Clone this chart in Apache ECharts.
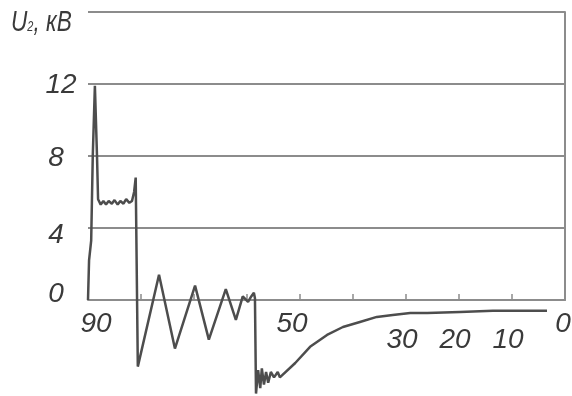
<!DOCTYPE html>
<html>
<head>
<meta charset="utf-8">
<script src="https://cdn.jsdelivr.net/npm/echarts@6/dist/echarts.min.js"></script>
<style>html,body{margin:0;padding:0;background:#fff}#c{width:572px;height:396px}</style>
</head>
<body>
<div id="c"></div>
<script>
// Distance (reversed axis, 90 -> 0) and voltage U2, kV
const xValues = [90, 89.8, 89.4, 89.1, 88.7, 88.3, 88.1, 87.6, 87.1, 86.6, 86.1, 85.5, 85.0, 84.4, 83.9, 83.3, 82.8, 82.2, 81.7, 81.3, 81.0,
  80.6, 76.6, 73.6, 69.8, 67.2, 64.0, 62.1, 60.8, 59.8, 59.2, 58.7, 58.5,
  58.3, 57.9, 57.5, 57.2, 56.8, 56.4, 56.0, 55.5, 54.9, 54.2, 53.8,
  50.9, 48.1, 44.9, 41.9, 38.7, 35.5, 32.5, 29.2, 26.0, 19.8, 13.6, 3.4];
const uValues = [0, 2.2, 3.3, 8.0, 11.9, 8.0, 5.6, 5.3, 5.5, 5.3, 5.5, 5.35, 5.55, 5.3, 5.5, 5.35, 5.6, 5.4, 5.5, 6.0, 6.8,
  -3.7, 1.4, -2.7, 0.8, -2.2, 0.6, -1.1, 0.2, -0.1, 0.2, 0.4, 0.1,
  -5.2, -3.9, -4.9, -3.8, -4.7, -4.0, -4.6, -4.0, -4.3, -4.0, -4.3,
  -3.5, -2.6, -1.94, -1.5, -1.22, -0.94, -0.83, -0.72, -0.72, -0.66, -0.6, -0.6];
const xTickLabels = ['90', '50', '30', '20', '10', '0'];
const yTickLabels = ['0', '4', '8', '12'];

const FONT = "'Liberation Sans Narrow', 'Liberation Sans', sans-serif";
const GRAY = '#8c8c8c';
const TXT = '#3a3a3a';
const data = xValues.map((x, i) => [x, uValues[i]]);

const xRich = {
  p90: {padding: [0, 0, 0, 16]},
  p50: {padding: [0, 16, 0, 0]},
  low: {padding: [16, 8, 0, 0]},
  p0: {padding: [0, 4, 0, 0]}
};
const yRich = {
  p0: {padding: [0, 0, 12, 0]},
  p4: {padding: [14, 0, 0, 0]},
  p8: {padding: [4, 0, 0, 0]},
  p12: {padding: [2, 0, 0, 10]}
};

const chart = echarts.init(document.getElementById('c'), null, {renderer: 'canvas'});
chart.setOption({
  animation: false,
  backgroundColor: '#fff',
  graphic: [{
    type: 'text', left: 11, top: 8, scaleX: 0.78,
    style: {
      text: '{u|U}{s|2}{u|, кВ}',
      rich: {
        u: {fontFamily: FONT, fontStyle: 'italic', fontSize: 29, fill: TXT, lineHeight: 32},
        s: {fontFamily: FONT, fontStyle: 'italic', fontSize: 14, fill: TXT, lineHeight: 32, padding: [9, 0, 0, 0]}
      }
    }
  }],
  grid: {left: 88, right: 7, top: 12, bottom: 96, outerBoundsMode: 'none', containLabel: false},
  xAxis: {
    type: 'value', min: 0, max: 90, interval: 10, inverse: true,
    axisLine: {lineStyle: {color: GRAY, width: 2}},
    axisTick: {inside: true, length: 6, lineStyle: {color: GRAY, width: 1.5}},
    splitLine: {show: false},
    axisLabel: {
      margin: 10,
      fontFamily: FONT, fontStyle: 'italic', fontSize: 28, color: TXT,
      rich: xRich,
      formatter: v => {
        const s = String(v);
        if (!xTickLabels.includes(s)) return '';
        if (v === 90) return '{p90|' + s + '}';
        if (v === 50) return '{p50|' + s + '}';
        if (v === 0) return '{p0|' + s + '}';
        return '{low|' + s + '}';
      }
    }
  },
  yAxis: {
    type: 'value', min: 0, max: 16, interval: 4,
    axisLine: {show: true, lineStyle: {color: GRAY, width: 2}},
    axisTick: {show: false},
    splitLine: {lineStyle: {color: GRAY, width: 2}},
    axisLabel: {
      align: 'center', margin: 32,
      fontFamily: FONT, fontStyle: 'italic', fontSize: 28, color: TXT,
      rich: yRich,
      formatter: v => {
        const s = String(v);
        return yTickLabels.includes(s) ? '{p' + s + '|' + s + '}' : '';
      }
    }
  },
  series: [{
    type: 'line',
    data: data,
    showSymbol: false,
    lineStyle: {color: '#4d4d4d', width: 2.5},
    clip: false,
    markLine: {
      silent: true, symbol: 'none', label: {show: false},
      lineStyle: {color: GRAY, width: 2, type: 'solid'},
      data: [
        [{coord: [0, 0]}, {coord: [0, 16]}]
      ]
    }
  }]
});
</script>
</body>
</html>
